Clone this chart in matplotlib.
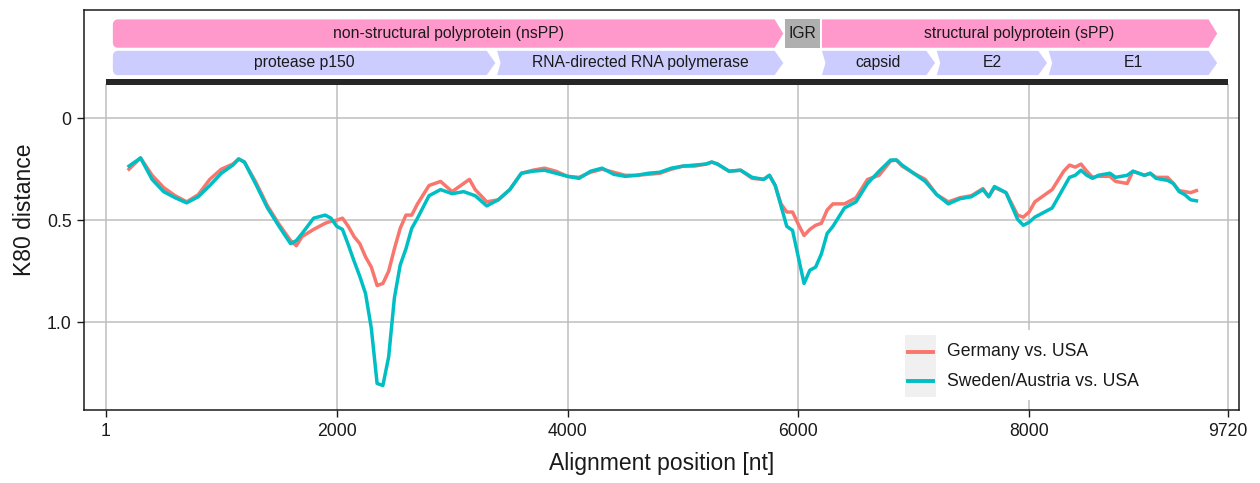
# K80 distance along the alignment, Germany / Sweden-Austria vs. USA
import numpy as np
import matplotlib.pyplot as plt
from matplotlib.patches import Polygon, Rectangle
from matplotlib.lines import Line2D

plt.rcParams['font.family'] = ['Liberation Sans', 'DejaVu Sans']

# window midpoints [nt]
position = [200, 300, 400, 500, 600, 700, 800, 900, 1000, 1100, 1150, 1200, 1300, 1400,
            1500, 1600, 1650, 1700, 1800, 1900, 1950, 2000, 2050, 2100, 2150, 2200, 2250,
            2300, 2350, 2400, 2450, 2500, 2550, 2600, 2650, 2700, 2800, 2900, 3000, 3100,
            3150, 3200, 3300, 3400, 3500, 3600, 3700, 3800, 3900, 4000, 4100, 4200, 4300,
            4400, 4500, 4600, 4700, 4800, 4900, 5000, 5100, 5200, 5250, 5300, 5400, 5500,
            5600, 5700, 5750, 5800, 5850, 5900, 5950, 6000, 6050, 6100, 6150, 6200, 6250,
            6300, 6400, 6500, 6600, 6700, 6800, 6850, 6900, 7000, 7100, 7200, 7300, 7400,
            7500, 7600, 7650, 7700, 7800, 7900, 7950, 8000, 8050, 8100, 8200, 8300, 8350,
            8400, 8450, 8500, 8550, 8600, 8700, 8750, 8850, 8900, 9000, 9050, 9100, 9200,
            9250, 9300, 9350, 9400, 9450]

germany = [0.25, 0.195, 0.28, 0.34, 0.38, 0.41, 0.375, 0.30, 0.25, 0.225, 0.20, 0.215, 0.315, 0.43,
           0.52, 0.60, 0.625, 0.58, 0.545, 0.515, 0.505, 0.50, 0.49, 0.53, 0.58, 0.615, 0.68,
           0.73, 0.82, 0.81, 0.75, 0.64, 0.54, 0.475, 0.475, 0.42, 0.33, 0.31, 0.36, 0.32,
           0.30, 0.35, 0.41, 0.40, 0.35, 0.27, 0.255, 0.245, 0.26, 0.285, 0.29, 0.265, 0.25,
           0.265, 0.28, 0.28, 0.275, 0.27, 0.25, 0.235, 0.235, 0.225, 0.215, 0.225, 0.26, 0.255,
           0.295, 0.30, 0.28, 0.33, 0.42, 0.46, 0.46, 0.52, 0.575, 0.545, 0.525, 0.515, 0.45,
           0.42, 0.42, 0.39, 0.30, 0.28, 0.21, 0.205, 0.235, 0.27, 0.30, 0.375, 0.41, 0.39,
           0.38, 0.345, 0.385, 0.34, 0.365, 0.475, 0.485, 0.46, 0.41, 0.39, 0.35, 0.26, 0.23,
           0.24, 0.225, 0.26, 0.29, 0.285, 0.285, 0.31, 0.32, 0.26, 0.28, 0.27, 0.29, 0.29,
           0.32, 0.355, 0.36, 0.365, 0.355]

sweden = [0.235, 0.195, 0.30, 0.36, 0.39, 0.415, 0.385, 0.33, 0.27, 0.23, 0.20, 0.215, 0.325, 0.44,
          0.53, 0.615, 0.60, 0.565, 0.49, 0.475, 0.49, 0.53, 0.545, 0.62, 0.70, 0.775, 0.86,
          1.03, 1.30, 1.31, 1.17, 0.88, 0.72, 0.64, 0.54, 0.49, 0.38, 0.35, 0.37, 0.36,
          0.37, 0.38, 0.43, 0.40, 0.35, 0.27, 0.26, 0.255, 0.27, 0.285, 0.295, 0.26, 0.245,
          0.275, 0.285, 0.28, 0.27, 0.265, 0.245, 0.235, 0.23, 0.225, 0.215, 0.225, 0.26, 0.255,
          0.29, 0.30, 0.28, 0.33, 0.43, 0.53, 0.55, 0.68, 0.81, 0.745, 0.73, 0.665, 0.565,
          0.53, 0.44, 0.41, 0.32, 0.26, 0.205, 0.205, 0.23, 0.27, 0.31, 0.375, 0.42, 0.395,
          0.385, 0.35, 0.385, 0.335, 0.365, 0.495, 0.525, 0.51, 0.485, 0.47, 0.44, 0.34, 0.29,
          0.28, 0.255, 0.28, 0.295, 0.28, 0.27, 0.29, 0.28, 0.26, 0.28, 0.27, 0.295, 0.305,
          0.32, 0.36, 0.375, 0.40, 0.405]

series_names = ['Germany vs. USA', 'Sweden/Austria vs. USA']

# genome annotation (alignment coordinates)
top_names = ['non-structural polyprotein (nsPP)', 'structural polyprotein (sPP)']
top_start = [60, 6205]
top_end = [5870, 9630]
igr_start, igr_end = 5885, 6190
sub_names = ['protease p150', 'RNA-directed RNA polymerase', 'capsid', 'E2', 'E1']
sub_start = [60, 3390, 6205, 7200, 8170]
sub_end = [3375, 5870, 7185, 8155, 9630]
sub_left = ['round', 'notch', 'notch', 'notch', 'notch']

x_ticks = [1, 2000, 4000, 6000, 8000, 9720]
y_ticks = [0, 0.5, 1.0]
y_ticklabels = ['0', '0.5', '1.0']

RED = '#F8766D'
CYAN = '#00BFC4'
PINK = '#FF99CC'
LAVENDER = '#CCCCFF'
GRID = '#BEBEBE'


def feature_shape(x0, x1, ytop, ybot, left='flat'):
    tip = 75
    ymid = (ytop + ybot) / 2
    pts = []
    if left == 'round':
        rx, ry = 40, 0.025
        for t in np.linspace(np.pi, np.pi / 2, 6):
            pts.append((x0 + rx + rx * np.cos(t), ytop + ry - ry * np.sin(t)))
    else:
        pts.append((x0, ytop))
    pts += [(x1 - tip, ytop), (x1, ymid), (x1 - tip, ybot)]
    if left == 'round':
        for t in np.linspace(np.pi / 2, np.pi, 6):
            pts.append((x0 + rx + rx * np.cos(t), ybot - ry + ry * np.sin(t)))
    else:
        pts.append((x0, ybot))
        if left == 'notch':
            pts.append((x0 + 30, ymid))
    return pts


fig = plt.figure(figsize=(12.6, 4.83), dpi=100)
ax = fig.add_axes([84 / 1260, 1 - 410 / 483, 1155 / 1260, 400 / 483])
ax.set_xlim(-190, 9819)
ax.set_ylim(1.43, -0.53)

# grid
for y in y_ticks:
    ax.axhline(y, color=GRID, lw=1.1, zorder=0)
ax.vlines(x_ticks, -0.165, 1.43, color=GRID, lw=1.1, zorder=0)

# genome bar and features
ax.add_patch(Rectangle((1, -0.191), 9719, 0.029, color='#262626', lw=0, zorder=2))
ptop, pbot = -0.484, -0.345
ltop, lbot = -0.330, -0.211
for name, s, e, lf in zip(top_names, top_start, top_end, ['round', 'flat']):
    ax.add_patch(Polygon(feature_shape(s, e, ptop, pbot, lf), closed=True, fc=PINK, ec='none', zorder=2))
    ax.text((s + e) / 2, (ptop + pbot) / 2, name, ha='center', va='center', fontsize=11.3, color='#1a1a1a')
ax.add_patch(Rectangle((igr_start, ptop), igr_end - igr_start, pbot - ptop, fc='#AFAFAF', ec='none', zorder=2))
ax.text((igr_start + igr_end) / 2, (ptop + pbot) / 2, 'IGR', ha='center', va='center', fontsize=11.3, color='#1a1a1a')
for name, s, e, lf in zip(sub_names, sub_start, sub_end, sub_left):
    ax.add_patch(Polygon(feature_shape(s, e, ltop, lbot, lf), closed=True, fc=LAVENDER, ec='none', zorder=2))
    ax.text((s + e) / 2, (ltop + lbot) / 2, name, ha='center', va='center', fontsize=11.3, color='#1a1a1a')

# distance curves
ax.plot(position, germany, color=RED, lw=2.5, zorder=3, solid_joinstyle='round')
ax.plot(position, sweden, color=CYAN, lw=2.5, zorder=3, solid_joinstyle='round')

# legend (ggplot look: grey key background)
ax.add_patch(Rectangle((0.706, 0.025), 0.217, 0.175, transform=ax.transAxes, fc='white', ec='none', zorder=4))
ax.add_patch(Rectangle((0.711, 0.0325), 0.027, 0.155, transform=ax.transAxes, fc='#F0F0F0', ec='none', zorder=5))
for yk, col, name in zip([0.145, 0.0725], [RED, CYAN], series_names):
    ax.add_line(Line2D([0.7134, 0.7351], [yk, yk], transform=ax.transAxes, color=col, lw=2.8, zorder=6))
    ax.text(0.747, yk, name, transform=ax.transAxes, ha='left', va='center', fontsize=12.7, color='#1a1a1a', zorder=6)

ax.set_xticks(x_ticks)
ax.set_xticklabels([str(v) for v in x_ticks])
ax.set_yticks(y_ticks)
ax.set_yticklabels(y_ticklabels)
ax.tick_params(labelsize=12.7, length=5, width=1, colors='#1a1a1a', labelcolor='#1a1a1a', pad=4)
for sp in ax.spines.values():
    sp.set_color('#1a1a1a')
    sp.set_linewidth(1.1)

ax.set_xlabel('Alignment position [nt]', fontsize=16.5, labelpad=9, color='#1a1a1a')
ax.set_ylabel('K80 distance', fontsize=16.5, labelpad=8, color='#1a1a1a')

fig.savefig('out.png', dpi=100)
